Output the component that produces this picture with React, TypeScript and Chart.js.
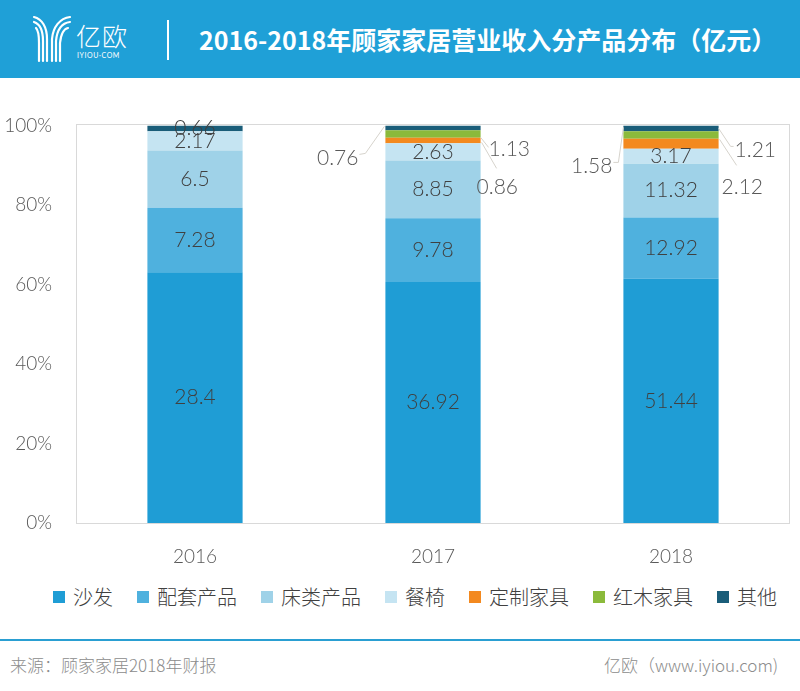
import React, { useEffect, useRef } from 'react';
import { Chart, registerables } from 'chart.js';

Chart.register(...registerables);

// ---------- data ----------
const years = ['2016', '2017', '2018'];
const sofa = [28.4, 36.92, 51.44];
const matching = [7.28, 9.78, 12.92];
const beds = [6.5, 8.85, 11.32];
const dining = [2.17, 2.63, 3.17];
const customFurniture = [0, 0.86, 2.12];
const redwood = [0, 1.13, 1.58];
const others = [0.66, 0.76, 1.21];
const seriesNames = ['沙发', '配套产品', '床类产品', '餐椅', '定制家具', '红木家具', '其他'];
const yTickValues = [0, 20, 40, 60, 80, 100];

const seriesValues = [sofa, matching, beds, dining, customFurniture, redwood, others];
const seriesColors = ['#1f9dd5', '#4fb1de', '#9fd2e8', '#c5e4f2', '#f3891f', '#8bba3b', '#1a5d79'];

const titleText = '2016-2018年顾家家居营业收入分产品分布（亿元）';
const sourceText = '来源：顾家家居2018年财报';
const creditText = '亿欧（www.iyiou.com)';

// label placement styles for small segments drawn outside the bar
// side: which edge of the bar, t: text offset [outward, down from bar top], line: points [outward, down]
type Placement = { side: 'left' | 'right'; t: [number, number]; line: [number, number][] };
const outsidePlacements: Record<string, Placement> = {
  '6-1': { side: 'left', t: [27, 33], line: [[26, 29], [20, 28], [1, 1]] },
  '5-1': { side: 'right', t: [8, 24], line: [[0, 12], [8, 22]] },
  '4-1': { side: 'right', t: [-4, 62], line: [[1, 17], [16, 43]] },
  '6-2': { side: 'right', t: [16, 25], line: [[0, 3], [12, 21], [15, 21]] },
  '5-2': { side: 'left', t: [11, 41], line: [[10, 37], [5, 37], [0, 2]] },
  '4-2': { side: 'right', t: [3, 62], line: [[1, 14], [18, 40]] },
};

const FONT = 'Lato, "Open Sans", "Noto Sans CJK SC", sans-serif';
const CJK = '"Noto Sans CJK SC", "Open Sans", sans-serif';

const totals = years.map((_, i) => seriesValues.reduce((s, arr) => s + arr[i], 0));

const labelPlugin = {
  id: 'segLabels',
  beforeDatasetsDraw(chart: any) {
    const { ctx, chartArea } = chart;
    ctx.save();
    ctx.strokeStyle = '#d9d9d9';
    ctx.lineWidth = 1;
    ctx.strokeRect(
      Math.round(chartArea.left) + 0.5,
      Math.round(chartArea.top) - 0.5,
      Math.round(chartArea.right - chartArea.left) - 1,
      Math.round(chartArea.bottom - chartArea.top) + 1
    );
    ctx.restore();
  },
  afterDatasetsDraw(chart: any) {
    const { ctx } = chart;
    const yScale = chart.scales.y;
    const top = yScale.getPixelForValue(100);
    ctx.save();
    ctx.font = `300 21px ${FONT}`;
    ctx.textBaseline = 'middle';
    chart.data.datasets.forEach((ds: any, di: number) => {
      const meta = chart.getDatasetMeta(di);
      meta.data.forEach((el: any, i: number) => {
        const raw = seriesValues[di][i];
        if (!raw) return;
        const txt = String(raw);
        const p = outsidePlacements[`${di}-${i}`];
        const left = el.x - el.width / 2;
        const right = el.x + el.width / 2;
        if (!p) {
          ctx.fillStyle = '#404040';
          ctx.textAlign = 'center';
          ctx.fillText(txt, el.x, (el.y + el.base) / 2);
          return;
        }
        const dir = p.side === 'left' ? -1 : 1;
        const edge = p.side === 'left' ? left : right;
        ctx.strokeStyle = '#d6d3cc';
        ctx.lineWidth = 1;
        ctx.beginPath();
        p.line.forEach(([ox, oy], k) => {
          const x = edge + dir * ox;
          const y = top + oy;
          if (k === 0) ctx.moveTo(x, y);
          else ctx.lineTo(x, y);
        });
        ctx.stroke();
        ctx.fillStyle = '#595959';
        ctx.textAlign = p.side === 'left' ? 'right' : 'left';
        ctx.fillText(txt, edge + dir * p.t[0], top + p.t[1]);
      });
    });
    ctx.restore();
  },
};

function Logo() {
  return (
    <svg width="48" height="52" viewBox="0 0 48 52" style={{ position: 'absolute', left: 28, top: 13 }}>
      <g fill="none" stroke="#fff" strokeWidth="2.2" strokeLinecap="round">
        <path d="M6 4 C14 6 19 14 19 26 L19 48" />
        <path d="M6 9 C12 11 15 17 15 28 L15 48" />
        <path d="M8 15 C10 17 11 21 11 30 L11 48" />
        <path d="M42 4 C32 5 25 14 24 26 L24 48" />
        <path d="M42 9 C34 10 29 17 28 28 L28 48" />
        <path d="M40 15 C35 16 33 21 32 30 L32 48" />
      </g>
    </svg>
  );
}

export default function App() {
  const canvasRef = useRef<HTMLCanvasElement | null>(null);

  useEffect(() => {
    if (!canvasRef.current) return;
    const chart = new Chart(canvasRef.current, {
      type: 'bar',
      data: {
        labels: years,
        datasets: seriesNames.map((name, si) => ({
          label: name,
          data: seriesValues[si].map((v, i) => (v / totals[i]) * 100),
          backgroundColor: seriesColors[si],
          borderWidth: 0,
          barPercentage: 0.4,
          categoryPercentage: 1,
        })),
      },
      options: {
        responsive: false,
        animation: false,
        layout: { padding: { top: 30, right: 10, left: 0, bottom: 0 } },
        plugins: { legend: { display: false }, tooltip: { enabled: false } },
        scales: {
          x: {
            stacked: true,
            grid: { display: false, drawTicks: false },
            border: { display: false },
            ticks: { color: '#595959', padding: 22, font: { family: FONT, size: 19, weight: '300' } },
            afterFit: (axis: any) => {
              axis.height = 47;
            },
          },
          y: {
            stacked: true,
            min: 0,
            max: 100,
            afterBuildTicks: (axis: any) => {
              axis.ticks = yTickValues.map((v) => ({ value: v }));
            },
            grid: { display: false, drawTicks: false },
            border: { display: false },
            ticks: {
              color: '#595959',
              padding: 24,
              font: { family: FONT, size: 19, weight: '300' },
              callback: (v: any) => `${v}%`,
            },
            afterFit: (axis: any) => {
              axis.width = 76;
            },
          },
        },
      },
      plugins: [labelPlugin],
    });
    return () => chart.destroy();
  }, []);

  return (
    <div style={{ position: 'absolute', left: 0, top: 0, width: 800, height: 691, background: '#fff', overflow: 'hidden' }}>
      {/* header */}
      <div style={{ position: 'absolute', left: 0, top: 0, width: 800, height: 78, background: '#1fa0d7' }}>
        <Logo />
        <div style={{ position: 'absolute', left: 76, top: 20, color: '#fff', font: `300 25px ${CJK}`, lineHeight: '30px', letterSpacing: 1 }}>亿欧</div>
        <div style={{ position: 'absolute', left: 77, top: 50, color: '#fff', font: `400 7px ${FONT}`, lineHeight: '10px', letterSpacing: 0.6 }}>IYIOU·COM</div>
        <div style={{ position: 'absolute', left: 167, top: 20, width: 1.5, height: 40, background: '#fff' }} />
        <div style={{ position: 'absolute', left: 199, top: 22, color: '#fff', font: `700 25px ${CJK}`, lineHeight: '34px', whiteSpace: 'nowrap' }}>{titleText}</div>
      </div>

      {/* chart */}
      <div style={{ position: 'absolute', left: 0, top: 90, width: 800, height: 480 }}>
        <canvas ref={canvasRef} width={800} height={480} style={{ display: 'block' }} />
      </div>

      {/* legend */}
      <div style={{ position: 'absolute', left: 53, top: 584, height: 26, display: 'flex', alignItems: 'center', whiteSpace: 'nowrap' }}>
        {seriesNames.map((name, i) => (
          <div key={name} style={{ display: 'flex', alignItems: 'center', marginRight: i < seriesNames.length - 1 ? 24 : 0 }}>
            <div style={{ width: 12, height: 12, background: seriesColors[i], marginRight: 8 }} />
            <span style={{ font: `300 20px ${CJK}`, color: '#404040', lineHeight: '26px' }}>{name}</span>
          </div>
        ))}
      </div>

      {/* footer */}
      <div style={{ position: 'absolute', left: 0, top: 639, width: 800, height: 2, background: '#2a9fd2' }} />
      <div style={{ position: 'absolute', left: 10, top: 654, font: `300 17px ${CJK}`, color: '#8c8c8c', lineHeight: '22px', whiteSpace: 'nowrap' }}>{sourceText}</div>
      <div style={{ position: 'absolute', left: 604, top: 654, font: `300 17px ${CJK}`, color: '#8c8c8c', lineHeight: '22px', whiteSpace: 'nowrap' }}>{creditText}</div>
    </div>
  );
}
